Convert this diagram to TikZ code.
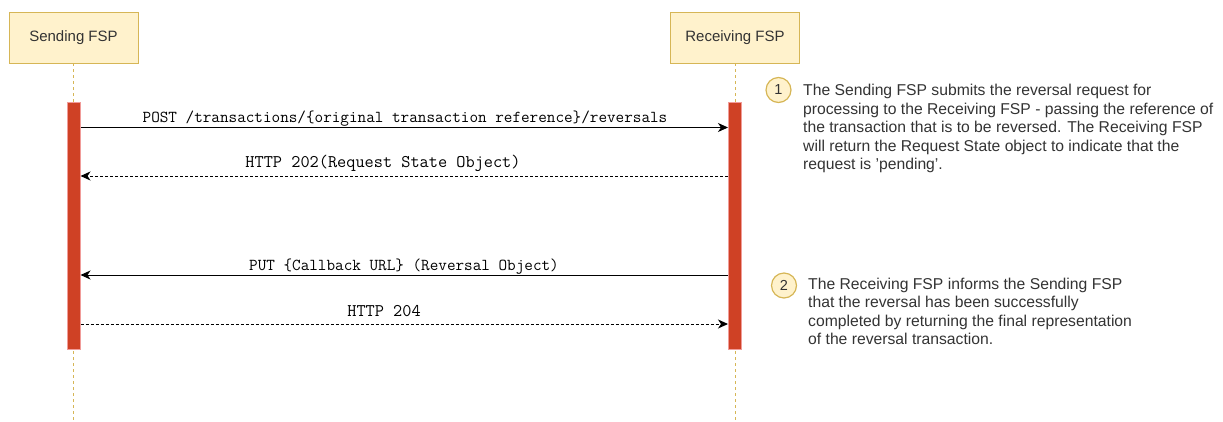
\documentclass[tikz,border=0pt]{standalone}
\usepackage{fontspec}
\setmainfont{Liberation Sans}
\usetikzlibrary{arrows.meta}
\definecolor{boxfill}{HTML}{FFF2CC}
\definecolor{boxline}{HTML}{D6B656}
\definecolor{actfill}{HTML}{CF4125}
\definecolor{actline}{HTML}{F19C99}
\definecolor{txt}{HTML}{333333}
\tikzset{
  actor/.style={draw=boxline, fill=boxfill, line width=0.8pt, minimum width=129pt, minimum height=51pt, font=\fontsize{15}{17}\selectfont, text=txt, inner sep=0pt},
  lifeline/.style={draw=boxline, line width=0.8pt, dash pattern=on 3pt off 3pt},
  actbar/.style={draw=actline, fill=actfill, line width=1pt, minimum width=13pt, minimum height=247pt, inner sep=0pt},
  msg/.style={line width=1pt, -{Stealth[length=10pt,width=9pt,inset=3pt]}},
  reply/.style={msg, dash pattern=on 3pt off 2pt},
  lbl/.style={font=\ttfamily\fontsize{16.7}{18}\selectfont, inner sep=0pt, anchor=base},
  lblbig/.style={lbl, font=\ttfamily\fontsize{17.8}{19}\selectfont},
  numc/.style={circle, draw=boxline, fill=boxfill, line width=1.2pt, minimum size=25pt, inner sep=0pt, font=\fontsize{14.5}{16}\selectfont, text=txt},
  note/.style={align=left, anchor=north west, inner sep=0pt, font=\fontsize{15.7}{18.5}\selectfont, text=txt}
}
\begin{document}
\begin{tikzpicture}[x=1pt,y=-1pt]
\useasboundingbox (0,0) rectangle (1223,421);
\node[actor] (s) at (73.5,37.5) {Sending FSP};
\node[actor] (r) at (735,37.5) {Receiving FSP};
\coordinate (sb) at (73.5,421);
\coordinate (rb) at (735,421);
\draw[lifeline] (s.south) -- (sb);
\draw[lifeline] (r.south) -- (rb);
\node[actbar] (sa) at (73.5,225.5) {};
\node[actbar] (ra) at (735,225.5) {};
\coordinate (s1) at (sa.east |- 0,127.5);
\coordinate (r1) at (ra.west |- 0,127.5);
\coordinate (s2) at (sa.east |- 0,176);
\coordinate (r2) at (ra.west |- 0,176);
\coordinate (s3) at (sa.east |- 0,275);
\coordinate (r3) at (ra.west |- 0,275);
\coordinate (s4) at (sa.east |- 0,324);
\coordinate (r4) at (ra.west |- 0,324);
\draw[msg] (s1) -- (r1);
\draw[reply] (r2) -- (s2);
\draw[msg] (r3) -- (s3);
\draw[reply] (s4) -- (r4);
\node[lbl] (l1) at (405,122) {POST /transactions/\{original transaction reference\}/reversals};
\node[lblbig] (l2) at (383,167) {HTTP 202(Request State Object)};
\node[lbl] (l3) at (404,270) {PUT \{Callback URL\} (Reversal Object)};
\node[lblbig] (l4) at (384,316) {HTTP 204};
\node[numc] (n1) at (778.5,90) {1};
\node[note] (t1) at (803,84) {The Sending FSP submits the reversal request for\\processing to the Receiving FSP - passing the reference of\\the transaction that is to be reversed. The Receiving FSP\\will return the Request State object to indicate that the\\request is 'pending'.};
\node[numc] (n2) at (784,285.5) {2};
\node[note] (t2) at (808,277.5) {The Receiving FSP informs the Sending FSP\\that the reversal has been successfully\\completed by returning the final representation\\of the reversal transaction.};
\end{tikzpicture}
\end{document}
